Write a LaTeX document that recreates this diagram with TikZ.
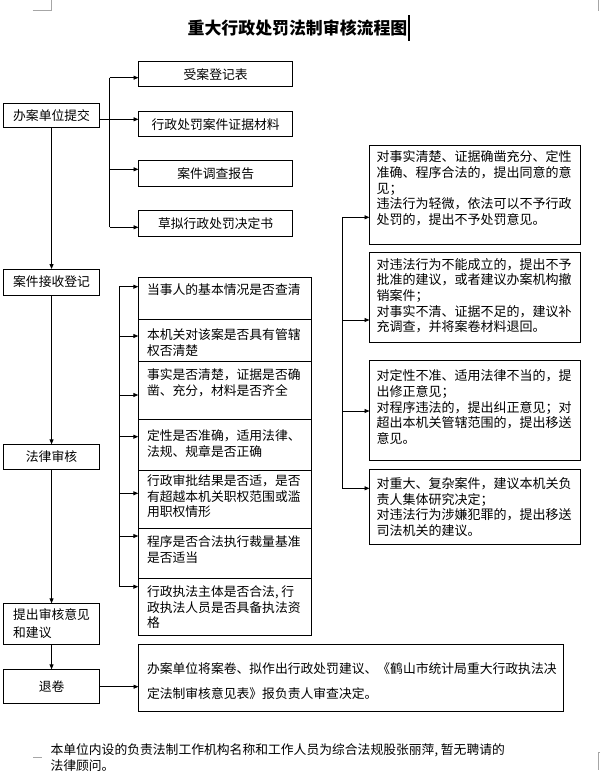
\documentclass[tikz,border=0pt]{standalone}
\usepackage{fontspec}
\setmainfont{Noto Sans CJK SC}
\usetikzlibrary{arrows.meta,calc}
\newcommand{\myfs}{\fontsize{12.8}{15.5}\selectfont}
\newcommand{\myrfs}{\fontsize{13}{15.7}\selectfont}
\begin{document}
\begin{tikzpicture}[x=1pt,y=-1pt,
  bx/.style={draw, line width=0.9pt, inner sep=0pt, outer sep=0pt, anchor=north west, font=\myfs, align=left},
  arr/.style={line width=0.9pt, -{Triangle[length=5pt,width=4pt]}},
  ln/.style={line width=0.9pt},
  tx/.style={inner sep=0pt, outer sep=0pt, anchor=north west, align=left, font=\myfs},
  rtx/.style={tx, font=\myrfs},
  cmark/.style={draw=black!35, line width=0.8pt}
]
\useasboundingbox[fill=white] (0,0) rectangle (600,779);

% corner marks and caret
\draw[cmark] (32.5,10) -- (51,10) -- (51,0);
\draw[cmark] (598.5,0) -- (598.5,11);
\draw[cmark] (33,757) -- (42,757);
\draw[cmark] (600,752) -- (598.5,752) -- (598.5,770);

% title
\node[font=\bfseries\fontsize{16.9}{20}\selectfont, inner sep=0pt] (title) at (297.5,28) {重大行政处罚法制审核流程图};
\draw[line width=1.8pt] (408.7,15) -- (408.7,41);

% left column
\node[bx, minimum width=96.5pt, minimum height=24pt] (sub) at (3.3,103.3) {办案单位提交};
\node[bx, minimum width=96.5pt, minimum height=26pt] (reg) at (3.3,269) {案件接收登记};
\node[bx, minimum width=96.5pt, minimum height=24.7pt] (law) at (3.3,444.3) {法律审核};
\node[bx, minimum width=96.5pt, minimum height=40.7pt, font={\fontsize{12.8}{18}\selectfont}] (opn) at (3.3,603.3) {提出审核意见\\和建议};
\node[bx, minimum width=96.5pt, minimum height=34pt] (ret) at (3.3,669.3) {退卷};

% top submissions
\node[bx, minimum width=154.3pt, minimum height=25pt] (b1) at (138.5,61.7) {受案登记表};
\node[bx, minimum width=154.3pt, minimum height=25pt] (b2) at (138.5,111.7) {行政处罚案件证据材料};
\node[bx, minimum width=154.3pt, minimum height=25.3pt] (b3) at (138.5,160.7) {案件调查报告};
\node[bx, minimum width=154.3pt, minimum height=26pt] (b4) at (138.5,210.7) {草拟行政处罚决定书};

% middle column boxes
\node[bx, minimum width=172.7pt, minimum height=42pt] (m1) at (138.3,277.3) {};
\node[bx, minimum width=172.7pt, minimum height=42.4pt] (m2) at (138.3,319.3) {};
\node[bx, minimum width=172.7pt, minimum height=57.6pt] (m3) at (138.3,361.7) {};
\node[bx, minimum width=172.7pt, minimum height=50.7pt] (m4) at (138.3,419.3) {};
\node[bx, minimum width=172.7pt, minimum height=58.3pt] (m5) at (138.3,470) {};
\node[bx, minimum width=172.7pt, minimum height=50pt] (m6) at (138.3,528.3) {};
\node[bx, minimum width=172.7pt, minimum height=57.4pt] (m7) at (138.3,578.3) {};

\node[tx] (m1t) at (147,284) {当事人的基本情况是否查清};
\node[tx] (m2t) at (147,329) {本机关对该案是否具有管辖\\权否清楚};
\node[tx] (m3t) at (147,369) {事实是否清楚，证据是否确\\凿、充分，材料是否齐全};
\node[tx] (m4t) at (147,430) {定性是否准确，适用法律、\\法规、规章是否正确};
\node[tx] (m5t) at (147,475) {行政审批结果是否适，是否\\有超越本机关职权范围或滥\\用职权情形};
\node[tx] (m6t) at (147,536) {程序是否合法执行裁量基准\\是否适当};
\node[tx] (m7t) at (147,586) {行政执法主体是否合法, 行\\政执法人员是否具备执法资\\格};

% right column boxes
\node[bx, minimum width=211pt, minimum height=99.5pt] (r1) at (369.5,145) {};
\node[bx, minimum width=211pt, minimum height=90pt] (r2) at (369.5,252.5) {};
\node[bx, minimum width=211pt, minimum height=99.8pt] (r3) at (369.5,360.7) {};
\node[bx, minimum width=211pt, minimum height=74.7pt] (r4) at (369.5,469.3) {};

\node[rtx] (r1t) at (376.5,150.7) {对事实清楚、证据确凿充分、定性\\准确、程序合法的，提出同意的意\\见；\\违法行为轻微，依法可以不予行政\\处罚的，提出不予处罚意见。};
\node[rtx] (r2t) at (376.5,258) {对违法行为不能成立的，提出不予\\批准的建议，或者建议办案机构撤\\销案件；\\对事实不清、证据不足的，建议补\\充调查，并将案卷材料退回。};
\node[rtx] (r3t) at (376.5,369.7) {对定性不准、适用法律不当的，提\\出修正意见；\\对程序违法的，提出纠正意见；对\\超出本机关管辖范围的，提出移送\\意见。};
\node[rtx] (r4t) at (376.5,477.3) {对重大、复杂案件，建议本机关负\\责人集体研究决定；\\对违法行为涉嫌犯罪的，提出移送\\司法机关的建议。};

% bottom box
\node[bx, minimum width=424.8pt, minimum height=67pt] (bot) at (138.5,644.3) {};
\node[tx, font={\fontsize{12.8}{25.7}\selectfont}] (bott) at (147,662.3) {办案单位将案卷、拟作出行政处罚建议、《鹤山市统计局重大行政执法决\\定法制审核意见表》报负责人审查决定。};

% footer
\node[tx, font={\fontsize{12.8}{16.4}\selectfont}] (foot) at (50.5,743.3) {本单位内设的负责法制工作机构名称和工作人员为综合法规股张丽萍, 暂无聘请的\\法律顾问。};

% trunk
\draw[arr] (sub.south) -- (sub.south |- reg.north);
\draw[arr] (reg.south) -- (reg.south |- law.north);
\draw[arr] (law.south) -- (law.south |- opn.north);
\draw[arr] (opn.south) -- (opn.south |- ret.north);

% top branch
\coordinate (ta) at (109.5,77.7);
\coordinate (tb) at (109.5,227.3);
\draw[ln] (ta) -- (tb);
\draw[arr] (ta) -- (b1.west |- ta);
\draw[arr] (sub.east |- 0,119.3) -- (b2.west |- 0,119.3);
\draw[arr] (109.5,169.3) -- (b3.west |- 0,169.3);
\draw[arr] (tb) -- (b4.west |- tb);

% middle branch
\coordinate (ma) at (119.3,286.7);
\coordinate (mb) at (119.3,586.7);
\draw[ln] (ma) -- (mb);
\draw[arr] (ma) -- (m1.west |- ma);
\draw[arr] (119.3,336) -- (m2.west |- 0,336);
\draw[arr] (119.3,395) -- (m3.west |- 0,395);
\draw[arr] (119.3,436.7) -- (m4.west |- 0,436.7);
\draw[arr] (119.3,493.3) -- (m5.west |- 0,493.3);
\draw[arr] (119.3,536) -- (m6.west |- 0,536);
\draw[arr] (mb) -- (m7.west |- mb);

% right branch
\coordinate (ra) at (342,217.3);
\coordinate (rb) at (342,488.3);
\draw[ln] (ra) -- (rb);
\draw[arr] (ra) -- (r1.west |- ra);
\draw[arr] (342,320) -- (r2.west |- 0,320);
\draw[arr] (342,411) -- (r3.west |- 0,411);
\draw[arr] (rb) -- (r4.west |- rb);

% return arrow
\draw[arr] (ret.east |- 0,686.7) -- (bot.west |- 0,686.7);
\end{tikzpicture}
\end{document}
